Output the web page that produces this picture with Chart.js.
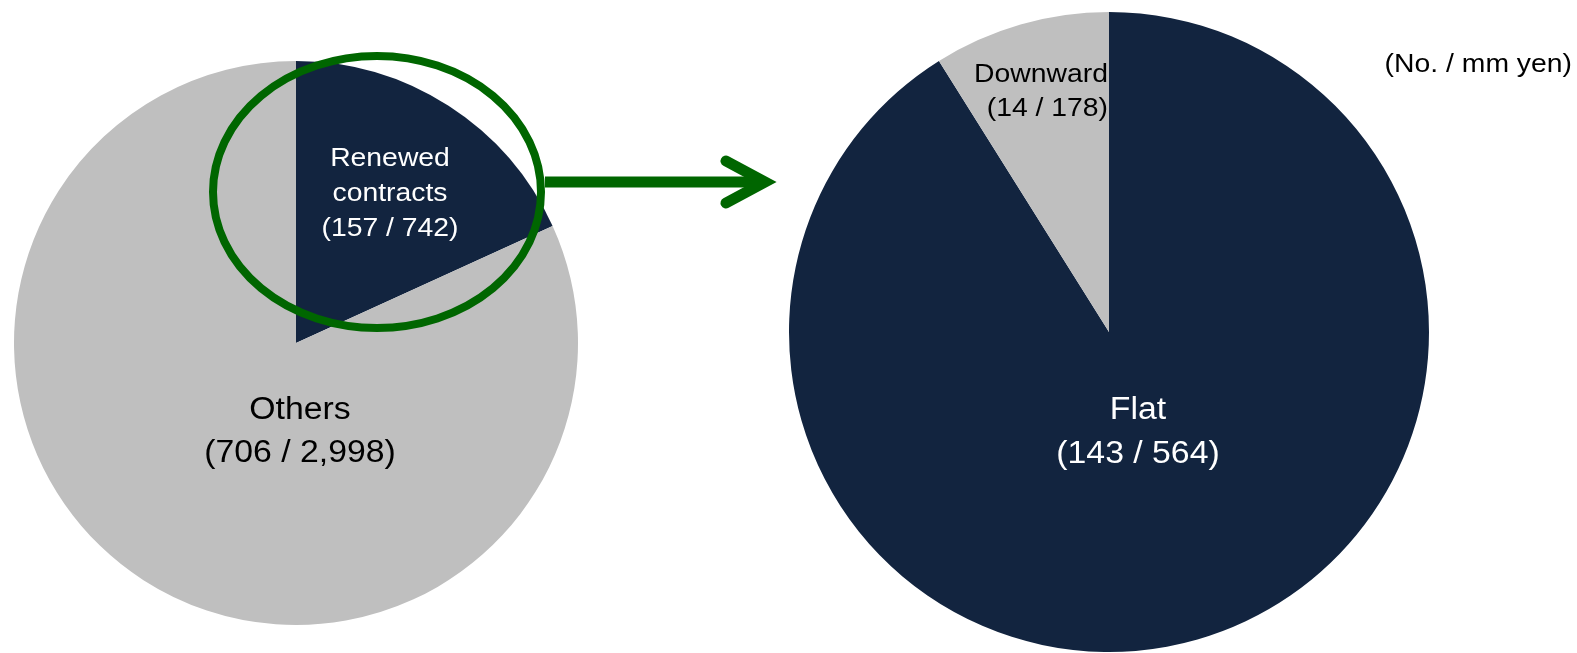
<!DOCTYPE html>
<html>
<head>
<meta charset="utf-8">
<script src="https://cdn.jsdelivr.net/npm/chart.js@4/dist/chart.umd.min.js"></script>
<style>
  html, body { margin: 0; padding: 0; background: #ffffff; }
  #wrap { position: relative; width: 1577px; height: 653px; overflow: hidden; }
  #wrap canvas { position: absolute; left: 0; top: 0; }
</style>
</head>
<body>
<div id="wrap">
  <canvas id="left" width="1577" height="653"></canvas>
  <canvas id="right" width="1577" height="653"></canvas>
</div>
<script>
// All contracts, split into renewed vs. others (count / amount in mm yen)
const totalCategories = ['Renewed contracts', 'Others'];
const totalCounts = [157, 706];
const totalAmounts = [742, 2998];

// Renewed contracts, split by rent revision
const renewedCategories = ['Flat', 'Downward'];
const renewedCounts = [143, 14];
const renewedAmounts = [564, 178];

const unitNote = '(No. / mm yen)';

const NAVY = '#12243f';
const GREY = '#bfbfbf';
const GREEN = '#006600';
const FONT = '"Liberation Sans", Arial, Helvetica, sans-serif';
const TEXT_STRETCH = 1.09;   // slightly wide lettering

const fmt = n => n.toLocaleString('en-US');

function wideText(ctx, text, x, y) {
  ctx.save();
  ctx.translate(x, y);
  ctx.scale(TEXT_STRETCH, 1);
  ctx.fillText(text, 0, 0);
  ctx.restore();
}

// Writes each slice's name and "(count / amount)" at an offset from the pie centre
const sliceLabels = {
  id: 'sliceLabels',
  afterDatasetsDraw(chart, args, opts) {
    const ctx = chart.ctx;
    const arc = chart.getDatasetMeta(0).data[0];
    const cx = arc.x, cy = arc.y;
    ctx.save();
    opts.items.forEach(item => {
      ctx.font = item.size + 'px ' + FONT;
      ctx.fillStyle = item.color;
      ctx.textAlign = item.align || 'center';
      ctx.textBaseline = 'middle';
      const n = item.lines.length;
      item.lines.forEach((line, i) => {
        const y = cy + item.dy + (i - (n - 1) / 2) * item.lineHeight;
        wideText(ctx, line, cx + item.dx, y);
      });
    });
    ctx.restore();
  }
};

// Green ring around the renewed slice and the arrow pointing to the breakdown
const callout = {
  id: 'callout',
  afterDraw(chart) {
    const ctx = chart.ctx;
    const arc = chart.getDatasetMeta(0).data[0];
    const cx = arc.x, cy = arc.y;
    ctx.save();
    ctx.strokeStyle = GREEN;
    ctx.lineWidth = 8;
    ctx.beginPath();
    ctx.ellipse(cx + 81, cy - 151, 164, 136, 0, 0, Math.PI * 2);
    ctx.stroke();

    const ay = cy - 161;
    ctx.lineWidth = 11;
    ctx.lineCap = 'butt';
    ctx.beginPath();
    ctx.moveTo(cx + 249, ay);
    ctx.lineTo(cx + 468, ay);
    ctx.stroke();

    ctx.lineCap = 'round';
    ctx.lineJoin = 'miter';
    ctx.beginPath();
    ctx.moveTo(cx + 430, ay - 21);
    ctx.lineTo(cx + 469, ay);
    ctx.lineTo(cx + 430, ay + 21);
    ctx.stroke();
    ctx.restore();
  }
};

// Unit note in the upper-right corner
const unitLabel = {
  id: 'unitLabel',
  afterDraw(chart) {
    const ctx = chart.ctx;
    ctx.save();
    ctx.font = '26px ' + FONT;
    ctx.fillStyle = '#000000';
    ctx.textAlign = 'right';
    ctx.textBaseline = 'middle';
    wideText(ctx, unitNote, chart.width - 5, 65);
    ctx.restore();
  }
};

const baseOptions = (padding) => ({
  responsive: false,
  animation: false,
  devicePixelRatio: 1,
  events: [],
  layout: { padding }
});

new Chart(document.getElementById('left'), {
  type: 'pie',
  data: {
    labels: totalCategories,
    datasets: [{
      data: totalCounts,
      backgroundColor: [NAVY, GREY],
      borderWidth: 0
    }]
  },
  options: Object.assign(baseOptions({ left: 14, top: 61, right: 999, bottom: 28 }), {
    plugins: {
      legend: { display: false },
      tooltip: { enabled: false },
      sliceLabels: {
        items: [
          { lines: ['Renewed', 'contracts', '(' + fmt(totalCounts[0]) + ' / ' + fmt(totalAmounts[0]) + ')'],
            dx: 94, dy: -149, size: 26, lineHeight: 35, color: '#ffffff' },
          { lines: ['Others', '(' + fmt(totalCounts[1]) + ' / ' + fmt(totalAmounts[1]) + ')'],
            dx: 4, dy: 89, size: 31, lineHeight: 43, color: '#000000' }
        ]
      }
    }
  }),
  plugins: [sliceLabels, callout]
});

new Chart(document.getElementById('right'), {
  type: 'pie',
  data: {
    labels: renewedCategories,
    datasets: [{
      data: renewedCounts,
      backgroundColor: [NAVY, GREY],
      borderWidth: 0
    }]
  },
  options: Object.assign(baseOptions({ left: 789, top: 12, right: 148, bottom: 1 }), {
    plugins: {
      legend: { display: false },
      tooltip: { enabled: false },
      sliceLabels: {
        items: [
          { lines: ['Flat', '(' + fmt(renewedCounts[0]) + ' / ' + fmt(renewedAmounts[0]) + ')'],
            dx: 29, dy: 100, size: 31, lineHeight: 44, color: '#ffffff' },
          { lines: ['Downward', '(' + fmt(renewedCounts[1]) + ' / ' + fmt(renewedAmounts[1]) + ')'],
            dx: -1, dy: -240, size: 26, lineHeight: 34, color: '#000000', align: 'right' }
        ]
      }
    }
  }),
  plugins: [sliceLabels, unitLabel]
});
</script>
</body>
</html>
